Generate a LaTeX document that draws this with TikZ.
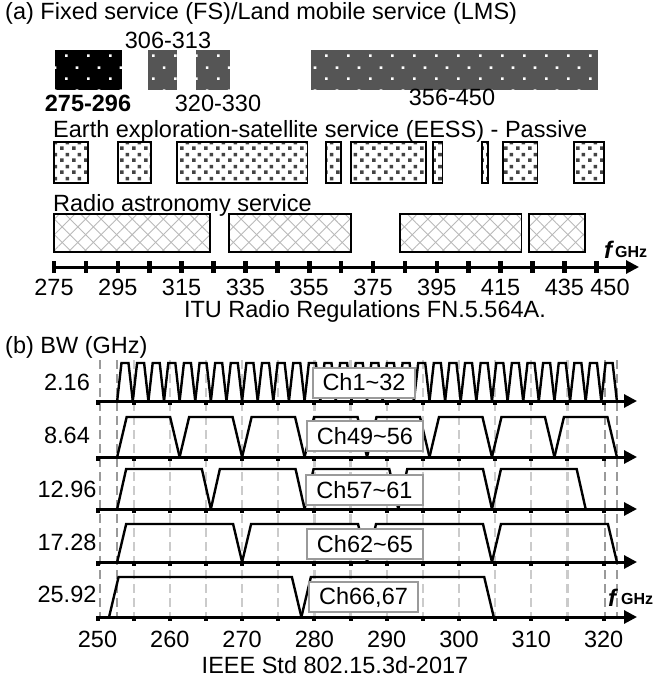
\documentclass[tikz,border=0pt]{standalone}
\usepackage{fontspec}
\setmainfont{Liberation Sans}
\usepackage{tikz}
\usetikzlibrary{arrows.meta,positioning,patterns.meta}

\definecolor{fsgray}{HTML}{555555}
\definecolor{sqgray}{HTML}{444444}
\definecolor{boxgray}{HTML}{9A9A9A}
\definecolor{dashlight}{HTML}{CBCBCB}
\definecolor{dashdark}{HTML}{9A9A9A}

% white dots on the FS/LMS bands
\tikzdeclarepattern{
  name=fsdots, type=uncolored,
  bounding box={(0,0) and (21.7pt,23pt)},
  tile size={(21.7pt,23pt)},
  code={
    \fill (0pt,0pt) rectangle (2.6pt,2.6pt);
    \fill (10.85pt,11.5pt) rectangle (13.45pt,14.1pt);
  }
}
% small squares on the EESS bands
\tikzdeclarepattern{
  name=eesssq, type=uncolored,
  bounding box={(0,0) and (12pt,12pt)},
  tile size={(12pt,12pt)},
  code={
    \fill (0pt,0pt) rectangle (3.8pt,3.8pt);
    \fill (6pt,6pt) rectangle (9.8pt,9.8pt);
  }
}

\begin{document}
\begin{tikzpicture}[
  x=1pt, y=-1pt,
  font=\fontsize{23.5}{28}\selectfont,
  lbl/.style={inner sep=0pt, anchor=base},
  lblw/.style={inner sep=0pt, anchor=base west},
  fsband/.style={fill=fsgray},
  eess/.style={draw=black, line width=1.2pt, pattern=eesssq, pattern color=sqgray},
  rasA/.style={pattern={Lines[angle=45,distance=11pt,line width=0.9pt]}, pattern color=gray!55},
  rasB/.style={draw=black, line width=1.2pt, pattern={Lines[angle=-45,distance=11pt,line width=0.9pt]}, pattern color=gray!55},
  ax/.style={line width=3pt, -{Triangle[length=13pt,width=13pt]}},
  chan/.style={line width=2.4pt, line join=miter},
  chbox/.style={draw=boxgray, line width=2pt, fill=white, inner xsep=10pt, inner ysep=0pt, minimum height=30pt},
  vdash/.style={dashlight, line width=2.2pt, dash pattern=on 9pt off 5pt},
  vdashd/.style={dashdark, line width=2pt, dash pattern=on 9pt off 5pt},
  fsym/.style={font=\fontsize{24}{26}\selectfont\bfseries\itshape, inner sep=0pt, anchor=base west},
  fsub/.style={font=\fontsize{16}{18}\selectfont\bfseries, inner sep=0pt, anchor=base west}
]
\useasboundingbox (0,0) rectangle (654,678);

% ---- (a) ITU bands
\node[lblw] (ttla) at (5,19) {(a) Fixed service (FS)/Land mobile service (LMS)};
\fill[black] (55,50) rectangle (122,90);
\fill[fsband] (148,50) rectangle (177,90);
\fill[fsband] (196,50) rectangle (230,90);
\fill[fsband] (311,50) rectangle (598,90);
\foreach \xa/\xb in {55/122,148/177,196/230,311/598}
  \fill[pattern=fsdots, pattern color=white] (\xa,50) rectangle (\xb,90);
\node[lbl] (f306) at (168,48) {306-313};
\node[lbl, font=\fontsize{23.5}{28}\selectfont\bfseries] (f275) at (88,111.5) {275-296};
\node[lbl] (f320) at (218,111.5) {320-330};
\node[lbl] (f356) at (452,105) {356-450};

\node[lblw] (ttle) at (53,137) {Earth exploration-satellite service (EESS) - Passive};
\foreach \xa/\xb in {54/88,118/151,177/307.5,326/341,351/426,433/442.5,482/488,503/537.5,574/604}
  \draw[eess] (\xa,142) rectangle (\xb,183);

\node[lblw] (ttlr) at (53,211) {Radio astronomy service};
\foreach \xa/\xb in {54/210,229/351,400/521.7,529/585} {
  \fill[rasA] (\xa,214) rectangle (\xb,252);
  \draw[rasB] (\xa,214) rectangle (\xb,252);
}

\coordinate (aS) at (54,267);
\coordinate (aE) at (639,267);
\draw[ax] (aS) -- (aE);
\foreach \k in {0,...,17}
  \fill ({54+31.9*\k-2.3},261) rectangle ({54+31.9*\k+2.3},273);
\foreach \k/\v in {0/275,2/295,4/315,6/335,8/355,10/375,12/395,14/415,16/435}
  \node[lbl] (la\k) at ({54+31.9*\k},295) {\v};
\node[lbl] (la450) at (610,295) {450};
\node[fsym] (fA) at (604,258) {f};
\node[fsub] (gA) at (615,257) {GHz};
\node[lbl] (itu) at (365,317) {ITU Radio Regulations FN.5.564A.};

% ---- (b) IEEE 802.15.3d channels
\node[lblw] (ttlb) at (5,353) {(b) BW (GHz)};
\foreach \f in {255,260,...,315}
  \draw[vdash] ({97.5+7.23*(\f-250)},360) -- ({97.5+7.23*(\f-250)},617);
\foreach \f in {250.3,252.72,320.2,321.84}
  \draw[vdashd] ({97.5+7.23*(\f-250)},360) -- ({97.5+7.23*(\f-250)},617);

\foreach \ya/\yt/\fo/\bw/\n/\r in {401/363/252.72/2.16/32/4.3, 457/417/252.72/8.64/8/9.5,
    509/469/252.72/12.96/5/9, 562/524/252.72/17.28/4/9, 617/577/251.6/26.6/2/9.5}
  \foreach \k in {1,...,\n} {
    \pgfmathsetmacro{\xa}{97.5+7.23*(\fo+(\k-1)*\bw-250)}
    \pgfmathsetmacro{\xb}{\xa+7.23*\bw}
    \draw[chan] (\xa,\ya) -- (\xa+\r,\yt) -- (\xb-\r,\yt) -- (\xb,\ya);
  }

\foreach \ya [count=\i] in {401,457,509,562,617} {
  \coordinate (bS\i) at (97.5,\ya);
  \coordinate (bE\i) at (637,\ya);
  \draw[ax] (bS\i) -- (bE\i);
  \foreach \f in {250,255,...,320}
    \fill ({97.5+7.23*(\f-250)-2},\ya-1) rectangle ++(4,5);
}

\node[chbox] (ch1) at (364,382.5) {Ch1\textasciitilde 32};
\node[chbox] (ch49) at (365,436) {Ch49\textasciitilde 56};
\node[chbox] (ch57) at (364.5,490) {Ch57\textasciitilde 61};
\node[chbox] (ch62) at (365,544) {Ch62\textasciitilde 65};
\node[chbox] (ch66) at (363.5,597) {Ch66,67};

\foreach \v/\yy [count=\i] in {2.16/390,8.64/443,12.96/497,17.28/550,25.92/602}
  \node[lbl] (bw\i) at (67,\yy) {\v};

\foreach \f in {250,260,...,320}
  \node[lbl] (lb\f) at ({97.5+7.23*(\f-250)},647) {\f};
\node[fsym] (fB) at (608,606) {f};
\node[fsub] (gB) at (621,604) {GHz};
\node[lbl] (ieee) at (335,673) {IEEE Std 802.15.3d-2017};
\end{tikzpicture}
\end{document}
